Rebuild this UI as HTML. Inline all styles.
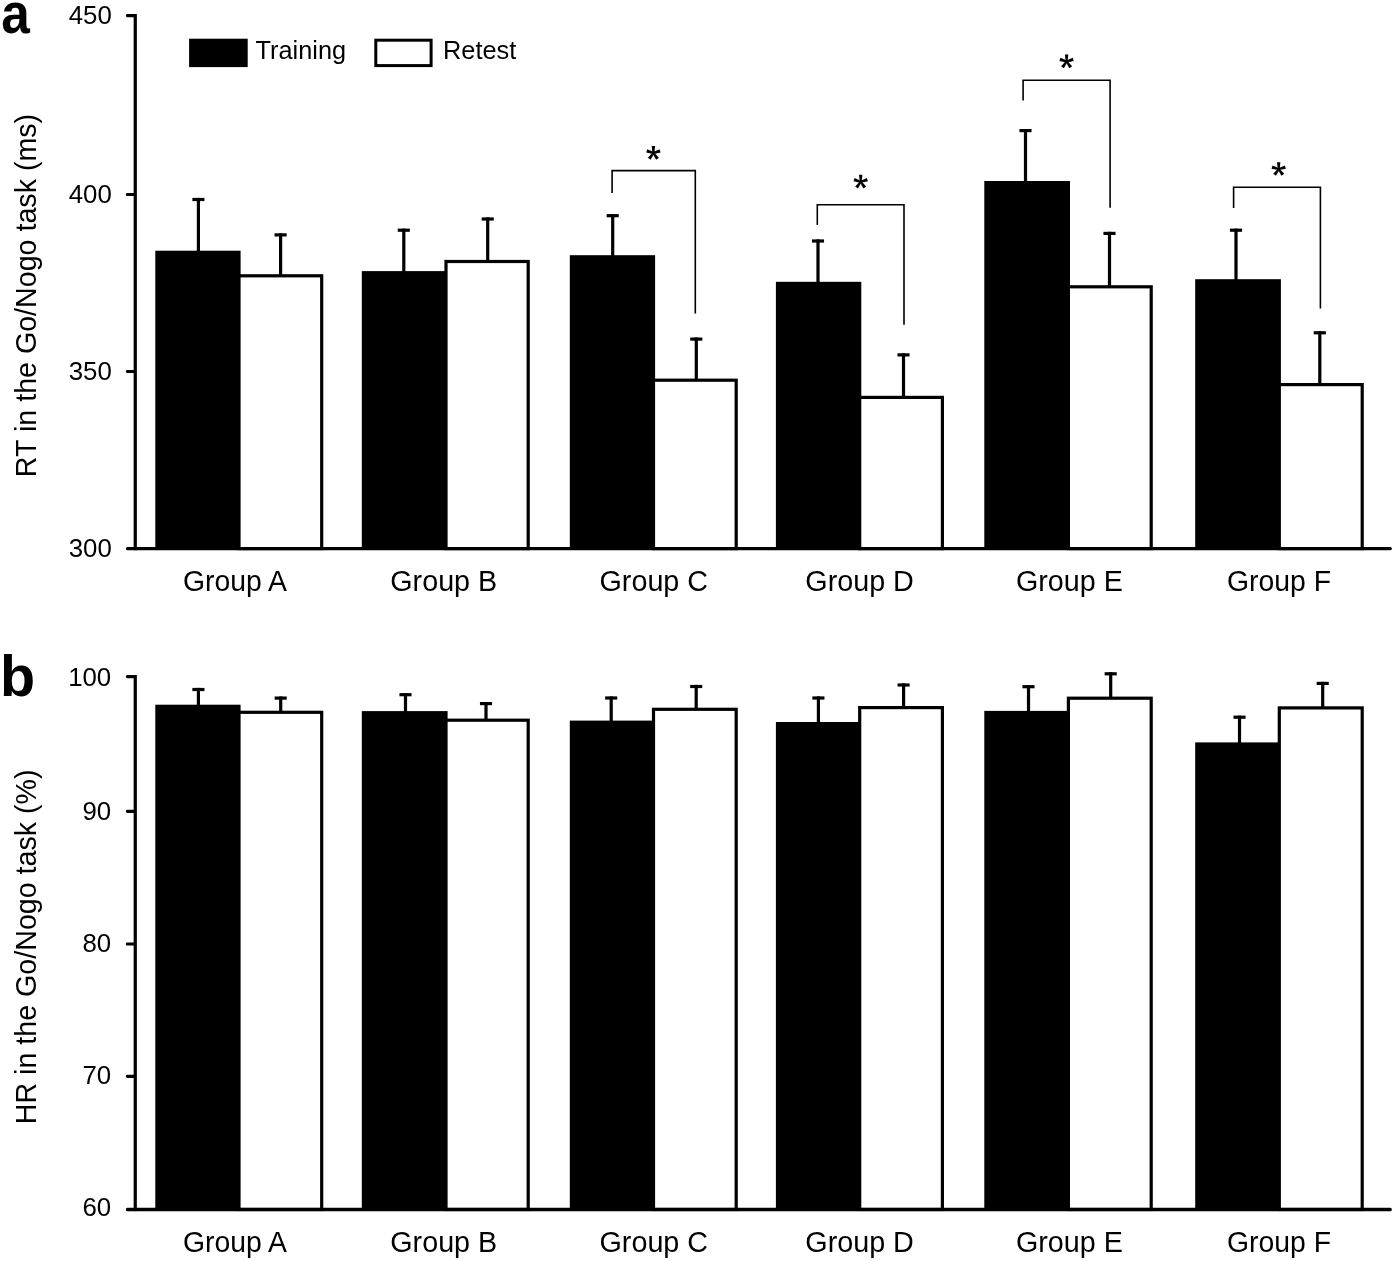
<!DOCTYPE html>
<html><head><meta charset="utf-8"><title>Figure</title>
<style>html,body{margin:0;padding:0;background:#fff}svg{display:block}</style></head>
<body>
<svg width="1395" height="1261" viewBox="0 0 1395 1261" font-family='"Liberation Sans", sans-serif' fill="#000" style="will-change:transform">
<rect x="196.80" y="197.90" width="3.2" height="54.80" fill="#000"/>
<rect x="192.35" y="197.90" width="12.1" height="3.2" fill="#000"/>
<rect x="279.00" y="233.30" width="3.2" height="42.90" fill="#000"/>
<rect x="274.55" y="233.30" width="12.1" height="3.2" fill="#000"/>
<rect x="155.30" y="250.70" width="85.30" height="297.90" fill="#000"/>
<rect x="239.00" y="275.80" width="82.70" height="272.80" fill="#fff" stroke="#000" stroke-width="3.2"/>
<rect x="402.20" y="228.60" width="3.2" height="44.50" fill="#000"/>
<rect x="397.75" y="228.60" width="12.1" height="3.2" fill="#000"/>
<rect x="486.10" y="217.40" width="3.2" height="44.50" fill="#000"/>
<rect x="481.65" y="217.40" width="12.1" height="3.2" fill="#000"/>
<rect x="361.80" y="271.10" width="85.80" height="277.50" fill="#000"/>
<rect x="446.00" y="261.50" width="82.20" height="287.10" fill="#fff" stroke="#000" stroke-width="3.2"/>
<rect x="611.10" y="214.10" width="3.2" height="43.10" fill="#000"/>
<rect x="606.65" y="214.10" width="12.1" height="3.2" fill="#000"/>
<rect x="694.70" y="337.50" width="3.2" height="43.10" fill="#000"/>
<rect x="690.25" y="337.50" width="12.1" height="3.2" fill="#000"/>
<rect x="569.80" y="255.20" width="85.30" height="293.40" fill="#000"/>
<rect x="653.50" y="380.20" width="82.70" height="168.40" fill="#fff" stroke="#000" stroke-width="3.2"/>
<rect x="816.40" y="239.40" width="3.2" height="44.40" fill="#000"/>
<rect x="811.95" y="239.40" width="12.1" height="3.2" fill="#000"/>
<rect x="901.90" y="353.30" width="3.2" height="44.50" fill="#000"/>
<rect x="897.45" y="353.30" width="12.1" height="3.2" fill="#000"/>
<rect x="775.90" y="281.80" width="85.40" height="266.80" fill="#000"/>
<rect x="859.70" y="397.40" width="82.70" height="151.20" fill="#fff" stroke="#000" stroke-width="3.2"/>
<rect x="1023.90" y="129.00" width="3.2" height="54.00" fill="#000"/>
<rect x="1019.45" y="129.00" width="12.1" height="3.2" fill="#000"/>
<rect x="1107.90" y="231.80" width="3.2" height="55.40" fill="#000"/>
<rect x="1103.45" y="231.80" width="12.1" height="3.2" fill="#000"/>
<rect x="984.30" y="181.00" width="85.70" height="367.60" fill="#000"/>
<rect x="1068.40" y="286.80" width="82.80" height="261.80" fill="#fff" stroke="#000" stroke-width="3.2"/>
<rect x="1234.40" y="228.60" width="3.2" height="52.60" fill="#000"/>
<rect x="1229.95" y="228.60" width="12.1" height="3.2" fill="#000"/>
<rect x="1318.20" y="331.20" width="3.2" height="53.80" fill="#000"/>
<rect x="1313.75" y="331.20" width="12.1" height="3.2" fill="#000"/>
<rect x="1195.20" y="279.20" width="85.70" height="269.40" fill="#000"/>
<rect x="1279.30" y="384.60" width="82.90" height="164.00" fill="#fff" stroke="#000" stroke-width="3.2"/>
<rect x="133.65" y="14.00" width="3.2" height="536.20" fill="#000"/>
<rect x="125.9" y="546.90" width="1265.90" height="3.4" rx="1.5" fill="#000"/>
<rect x="125.9" y="14.00" width="9.35" height="3.2" rx="1.4" fill="#000"/>
<text x="111.8" y="24.00" font-size="25.8" text-anchor="end">450</text>
<rect x="125.9" y="192.90" width="9.35" height="3.2" rx="1.4" fill="#000"/>
<text x="111.8" y="202.60" font-size="25.8" text-anchor="end">400</text>
<rect x="125.9" y="369.90" width="9.35" height="3.2" rx="1.4" fill="#000"/>
<text x="111.8" y="379.90" font-size="25.8" text-anchor="end">350</text>
<text x="111.8" y="556.70" font-size="25.8" text-anchor="end">300</text>
<rect x="196.80" y="687.90" width="3.2" height="18.80" fill="#000"/>
<rect x="192.35" y="687.90" width="12.1" height="3.2" fill="#000"/>
<rect x="279.10" y="696.50" width="3.2" height="16.20" fill="#000"/>
<rect x="274.65" y="696.50" width="12.1" height="3.2" fill="#000"/>
<rect x="155.30" y="704.70" width="85.30" height="504.80" fill="#000"/>
<rect x="239.00" y="712.30" width="82.70" height="497.20" fill="#fff" stroke="#000" stroke-width="3.2"/>
<rect x="403.90" y="693.10" width="3.2" height="20.00" fill="#000"/>
<rect x="399.45" y="693.10" width="12.1" height="3.2" fill="#000"/>
<rect x="484.40" y="702.00" width="3.2" height="18.60" fill="#000"/>
<rect x="479.95" y="702.00" width="12.1" height="3.2" fill="#000"/>
<rect x="361.80" y="711.10" width="85.80" height="498.40" fill="#000"/>
<rect x="446.00" y="720.20" width="82.20" height="489.30" fill="#fff" stroke="#000" stroke-width="3.2"/>
<rect x="609.60" y="696.40" width="3.2" height="26.20" fill="#000"/>
<rect x="605.15" y="696.40" width="12.1" height="3.2" fill="#000"/>
<rect x="694.60" y="684.90" width="3.2" height="24.80" fill="#000"/>
<rect x="690.15" y="684.90" width="12.1" height="3.2" fill="#000"/>
<rect x="569.80" y="720.60" width="85.30" height="488.90" fill="#000"/>
<rect x="653.50" y="709.30" width="82.70" height="500.20" fill="#fff" stroke="#000" stroke-width="3.2"/>
<rect x="816.80" y="696.40" width="3.2" height="27.60" fill="#000"/>
<rect x="812.35" y="696.40" width="12.1" height="3.2" fill="#000"/>
<rect x="902.00" y="683.40" width="3.2" height="24.60" fill="#000"/>
<rect x="897.55" y="683.40" width="12.1" height="3.2" fill="#000"/>
<rect x="775.90" y="722.00" width="85.40" height="487.50" fill="#000"/>
<rect x="859.70" y="707.60" width="82.70" height="501.90" fill="#fff" stroke="#000" stroke-width="3.2"/>
<rect x="1026.90" y="685.10" width="3.2" height="27.80" fill="#000"/>
<rect x="1022.45" y="685.10" width="12.1" height="3.2" fill="#000"/>
<rect x="1109.10" y="672.20" width="3.2" height="26.40" fill="#000"/>
<rect x="1104.65" y="672.20" width="12.1" height="3.2" fill="#000"/>
<rect x="984.30" y="710.90" width="85.70" height="498.60" fill="#000"/>
<rect x="1068.40" y="698.20" width="82.80" height="511.30" fill="#fff" stroke="#000" stroke-width="3.2"/>
<rect x="1237.90" y="715.60" width="3.2" height="28.80" fill="#000"/>
<rect x="1233.45" y="715.60" width="12.1" height="3.2" fill="#000"/>
<rect x="1321.10" y="681.80" width="3.2" height="26.50" fill="#000"/>
<rect x="1316.65" y="681.80" width="12.1" height="3.2" fill="#000"/>
<rect x="1195.20" y="742.40" width="85.70" height="467.10" fill="#000"/>
<rect x="1279.30" y="707.90" width="82.90" height="501.60" fill="#fff" stroke="#000" stroke-width="3.2"/>
<rect x="133.65" y="675.00" width="3.2" height="536.10" fill="#000"/>
<rect x="125.9" y="1207.80" width="1265.90" height="3.4" rx="1.5" fill="#000"/>
<rect x="125.9" y="675.00" width="9.35" height="3.2" rx="1.4" fill="#000"/>
<text x="111.2" y="686.30" font-size="25.8" text-anchor="end">100</text>
<rect x="125.9" y="809.75" width="9.35" height="3.2" rx="1.4" fill="#000"/>
<text x="111.2" y="819.80" font-size="25.8" text-anchor="end">90</text>
<rect x="125.9" y="942.40" width="9.35" height="3.2" rx="1.4" fill="#000"/>
<text x="111.2" y="951.80" font-size="25.8" text-anchor="end">80</text>
<rect x="125.9" y="1074.80" width="9.35" height="3.2" rx="1.4" fill="#000"/>
<text x="111.2" y="1084.30" font-size="25.8" text-anchor="end">70</text>
<text x="111.2" y="1216.10" font-size="25.8" text-anchor="end">60</text>
<text transform="translate(182.90,590.7) scale(0.958,1)" font-size="29.6">Group A</text>
<text transform="translate(182.90,1251.9) scale(0.958,1)" font-size="29.6">Group A</text>
<text transform="translate(390.30,590.7) scale(0.97,1)" font-size="29.6">Group B</text>
<text transform="translate(390.30,1251.9) scale(0.97,1)" font-size="29.6">Group B</text>
<text transform="translate(599.50,590.7) scale(0.971,1)" font-size="29.6">Group C</text>
<text transform="translate(599.50,1251.9) scale(0.971,1)" font-size="29.6">Group C</text>
<text transform="translate(805.30,590.7) scale(0.971,1)" font-size="29.6">Group D</text>
<text transform="translate(805.30,1251.9) scale(0.971,1)" font-size="29.6">Group D</text>
<text transform="translate(1016.00,590.7) scale(0.97,1)" font-size="29.6">Group E</text>
<text transform="translate(1016.00,1251.9) scale(0.97,1)" font-size="29.6">Group E</text>
<text transform="translate(1227.00,590.7) scale(0.958,1)" font-size="29.6">Group F</text>
<text transform="translate(1227.00,1251.9) scale(0.958,1)" font-size="29.6">Group F</text>
<text transform="translate(1.15,32.5) scale(0.885,1)" font-size="58" font-weight="bold">a</text>
<text x="0" y="695.6" font-size="57.5" font-weight="bold">b</text>
<text transform="translate(35.6,295.5) rotate(-90) scale(0.9676,1)" font-size="29.6" text-anchor="middle">RT in the Go/Nogo task (ms)</text>
<text transform="translate(35.6,946.8) rotate(-90) scale(0.9676,1)" font-size="29.6" text-anchor="middle">HR in the Go/Nogo task (%)</text>
<rect x="189.1" y="38.7" width="58.6" height="28.4" fill="#000"/>
<rect x="375.8" y="40.2" width="55.3" height="25.4" fill="#fff" stroke="#000" stroke-width="3"/>
<text x="255.6" y="59.1" font-size="25.3">Training</text>
<text x="443.1" y="59.3" font-size="25.3">Retest</text>
<path d="M612.1 192.9 V170.6 H695.3 V313.4" fill="none" stroke="#000" stroke-width="1.6"/>
<g transform="translate(653.4,153.00)"><path d="M-0.95 0 L-1.7 -7.0 L1.7 -7.0 L0.95 0 Z" transform="rotate(0)"/><path d="M-0.95 0 L-1.7 -7.0 L1.7 -7.0 L0.95 0 Z" transform="rotate(72)"/><path d="M-0.95 0 L-1.7 -7.0 L1.7 -7.0 L0.95 0 Z" transform="rotate(144)"/><path d="M-0.95 0 L-1.7 -7.0 L1.7 -7.0 L0.95 0 Z" transform="rotate(216)"/><path d="M-0.95 0 L-1.7 -7.0 L1.7 -7.0 L0.95 0 Z" transform="rotate(288)"/><circle r="1.5"/></g>
<path d="M817.3 225.1 V204.7 H904.0 V324.7" fill="none" stroke="#000" stroke-width="1.6"/>
<g transform="translate(860.7,181.80)"><path d="M-0.95 0 L-1.7 -7.0 L1.7 -7.0 L0.95 0 Z" transform="rotate(0)"/><path d="M-0.95 0 L-1.7 -7.0 L1.7 -7.0 L0.95 0 Z" transform="rotate(72)"/><path d="M-0.95 0 L-1.7 -7.0 L1.7 -7.0 L0.95 0 Z" transform="rotate(144)"/><path d="M-0.95 0 L-1.7 -7.0 L1.7 -7.0 L0.95 0 Z" transform="rotate(216)"/><path d="M-0.95 0 L-1.7 -7.0 L1.7 -7.0 L0.95 0 Z" transform="rotate(288)"/><circle r="1.5"/></g>
<path d="M1023.1 100.4 V80.2 H1110.1 V207.7" fill="none" stroke="#000" stroke-width="1.6"/>
<g transform="translate(1066.6,61.50)"><path d="M-0.95 0 L-1.7 -7.0 L1.7 -7.0 L0.95 0 Z" transform="rotate(0)"/><path d="M-0.95 0 L-1.7 -7.0 L1.7 -7.0 L0.95 0 Z" transform="rotate(72)"/><path d="M-0.95 0 L-1.7 -7.0 L1.7 -7.0 L0.95 0 Z" transform="rotate(144)"/><path d="M-0.95 0 L-1.7 -7.0 L1.7 -7.0 L0.95 0 Z" transform="rotate(216)"/><path d="M-0.95 0 L-1.7 -7.0 L1.7 -7.0 L0.95 0 Z" transform="rotate(288)"/><circle r="1.5"/></g>
<path d="M1233.6 207.9 V187.2 H1320.4 V308.6" fill="none" stroke="#000" stroke-width="1.6"/>
<g transform="translate(1278.7,169.20)"><path d="M-0.95 0 L-1.7 -7.0 L1.7 -7.0 L0.95 0 Z" transform="rotate(0)"/><path d="M-0.95 0 L-1.7 -7.0 L1.7 -7.0 L0.95 0 Z" transform="rotate(72)"/><path d="M-0.95 0 L-1.7 -7.0 L1.7 -7.0 L0.95 0 Z" transform="rotate(144)"/><path d="M-0.95 0 L-1.7 -7.0 L1.7 -7.0 L0.95 0 Z" transform="rotate(216)"/><path d="M-0.95 0 L-1.7 -7.0 L1.7 -7.0 L0.95 0 Z" transform="rotate(288)"/><circle r="1.5"/></g>
</svg>
</body></html>
